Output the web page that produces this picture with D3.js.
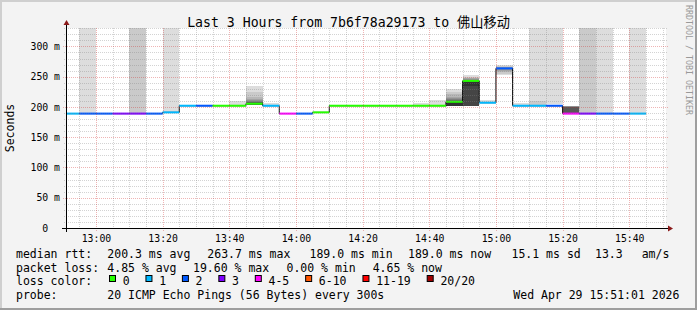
<!DOCTYPE html>
<html>
<head>
<meta charset="utf-8">
<script src="https://cdn.jsdelivr.net/npm/d3@7"></script>
<style>
  body { margin: 0; background: #f3f3f3; }
  svg { display: block; }
  text { font-family: "DejaVu Sans Mono", "Noto Sans CJK SC", monospace; fill: #000; }
</style>
</head>
<body>
<div id="container"></div>
<script>
/* CONSTANTS AND GLOBALS */
const width = 697,
  height = 310,
  plot = { left: 66, right: 666, top: 28, bottom: 228 }

/* DATA */
const title = "Last 3 Hours from 7b6f78a29173 to 佛山移动"
const day = "2026-04-29"
const windowStart = "12:51:01", windowEnd = "15:51:01"
const stepMinutes = 5
const yMax = 330.4

// one entry per 5 minute step
const stepTimes = ["12:50", "12:55", "13:00", "13:05", "13:10", "13:15", "13:20", "13:25", "13:30",
  "13:35", "13:40", "13:45", "13:50", "13:55", "14:00", "14:05", "14:10", "14:15", "14:20", "14:25",
  "14:30", "14:35", "14:40", "14:45", "14:50", "14:55", "15:00", "15:05", "15:10", "15:15", "15:20",
  "15:25", "15:30", "15:35", "15:40"]
const medians = [189, 189, 189, 189, 189, 189, 191, 202, 202, 202, 202, 205.3, 202, 189, 189, 191,
  202, 202, 202, 202, 202, 202, 202, 208.5, 243, 207, 263.7, 202, 202, 202, 189, 189, 189, 189, 189]
const lossCounts = [1, 2, 2, 3, 3, 2, 1, 1, 2, 0, 0, 0, 1, 4, 2, 0, 0, 0, 0, 0, 0, 0, 0, 0, 0, 1, 2,
  1, 1, 2, 4, 3, 2, 2, 1]

// smoke: ping pairs (low, high) from the outer pair inwards, only for steps that have some
const smokeTimes = ["12:55", "13:10", "13:20", "13:40", "13:45", "13:50", "14:35", "14:40", "14:45",
  "14:50", "14:55", "15:00", "15:05", "15:10", "15:15", "15:20", "15:25", "15:30", "15:40"]
const smokePairs = [
  [[190.5, 2000]],
  [[190.5, 2000], [190.5, 2000]],
  [[192, 2000]],
  [[203, 209]],
  [[203, 234.5], [203, 224], [203, 217], [203, 213], [203, 211], [203, 209.5], [203, 208.5], [203, 207.5]],
  [[203, 207]],
  [[202, 206]],
  [[202, 211]],
  [[202, 229], [202, 225], [202, 221], [202, 217], [202, 215], [202, 213], [202, 211], [202, 210], [202, 209], [202, 208]],
  [[202, 252], [202, 250], [202, 248], [202, 247], [202, 246], [202, 245], [202, 244], [202, 243], [202, 242], [234, 241]],
  [[206, 211.5]],
  [[252, 269], [254, 267], [257, 266], [259, 265], [261, 265]],
  [[202, 206]],
  [[204, 2000], [204, 209]],
  [[204.3, 2000]],
  [[190.5, 202], [190.5, 201.6], [190.5, 201.3], [190.5, 201], [190.5, 200.8], [190.5, 200.6], [190.5, 200.4], [190.5, 200.2]],
  [[190.5, 2000], [190.5, 2000]],
  [[190.5, 2000]],
  [[190.5, 2000]]
]

const yTicks = [0, 50, 100, 150, 200, 250, 300]
const lossLabels = ["0", "1", "2", "3", "4-5", "6-10", "11-19", "20/20"]
const lossLimits = [1, 2, 3, 4, 6, 11, 20]
const lossColors = ["#26ff00", "#00b8ff", "#0059ff", "#7e00ff", "#ff00ff", "#ff5500", "#ff0000", "#a00000"]

const rttStats = ["median rtt:", "200.3 ms avg", "263.7 ms max", "189.0 ms min", "189.0 ms now", "15.1 ms sd", "13.3", "am/s"]
const lossStats = ["packet loss:", "4.85 % avg", "19.60 % max", "0.00 % min", "4.65 % now"]
const probeText = ["probe:", "20 ICMP Echo Pings (56 Bytes) every 300s", "Wed Apr 29 15:51:01 2026"]

/* LAYOUT */
const rttX = [16, 107.3, 207.3, 309.5, 408, 511.5, 595, 641.7]
const lossX = [16, 107.3, 193, 286.5, 372.7]
const probeX = [16, 107.3, 513.3]
const charW = 6.95

/* SCALES */
const parseTime = d3.timeParse("%Y-%m-%d %H:%M:%S")
const at = t => parseTime(`${day} ${t.length === 5 ? t + ":00" : t}`)

const xScale = d3.scaleTime()
  .domain([at(windowStart), at(windowEnd)])
  .range([plot.left, plot.right])

const yScale = d3.scaleLinear()
  .domain([0, yMax])
  .range([plot.bottom, plot.top])

const lossColor = d3.scaleThreshold().domain(lossLimits).range(lossColors)

const steps = stepTimes.map((t, i) => {
  const t0 = at(t)
  return { t0, t1: d3.timeMinute.offset(t0, stepMinutes), median: medians[i], loss: lossCounts[i] }
})

/* CREATE SVG ELEMENT */
const svg = d3.select("#container")
  .append("svg")
  .attr("width", width)
  .attr("height", height)

// frame
svg.append("rect").attr("width", width).attr("height", height).attr("fill", "#f3f3f3")
svg.append("path").attr("d", `M0,${height} V0 H${width}`).attr("stroke", "#cfcfcf").attr("stroke-width", 4).attr("fill", "none")
svg.append("path").attr("d", `M0,${height} H${width} V0`).attr("stroke", "#9e9e9e").attr("stroke-width", 4).attr("fill", "none")

svg.append("rect")
  .attr("x", plot.left).attr("y", plot.top)
  .attr("width", plot.right - plot.left).attr("height", plot.bottom - plot.top)
  .attr("fill", "#fff")

svg.append("clipPath").attr("id", "clip")
  .append("rect")
  .attr("x", plot.left).attr("y", plot.top)
  .attr("width", plot.right - plot.left).attr("height", plot.bottom - plot.top)

const g = svg.append("g").attr("clip-path", "url(#clip)")

// SMOKE
const smokeGray = k => { const v = 221 - 19 * k; return d3.rgb(v, v, v) }
smokeTimes.forEach((t, i) => {
  const t0 = at(t), t1 = d3.timeMinute.offset(t0, stepMinutes)
  g.append("g").selectAll("rect")
    .data(smokePairs[i])
    .join("rect")
    .attr("x", xScale(t0))
    .attr("width", xScale(t1) - xScale(t0))
    .attr("y", d => yScale(d[1]))
    .attr("height", d => yScale(d[0]) - yScale(d[1]))
    .attr("fill", (d, k) => smokeGray(k))
    .attr("shape-rendering", "crispEdges")
})

// GRID
const crisp = v => Math.round(v) + 0.5
const minorX = d3.timeMinute.every(5).range(xScale.domain()[0], xScale.domain()[1])
const grid = svg.append("g").attr("stroke-dasharray", "1,1").attr("stroke-width", 1)

grid.selectAll(".vminor")
  .data(minorX.filter(d => d.getMinutes() % 20 !== 0))
  .join("line")
  .attr("x1", d => crisp(xScale(d))).attr("x2", d => crisp(xScale(d)))
  .attr("y1", plot.top).attr("y2", plot.bottom + 2)
  .attr("stroke", "rgba(130,130,130,0.35)")

grid.selectAll(".hminor")
  .data(d3.range(10, yMax, 10).filter(d => d % 50 !== 0))
  .join("line")
  .attr("x1", plot.left - 2).attr("x2", plot.right + 2)
  .attr("y1", d => crisp(yScale(d))).attr("y2", d => crisp(yScale(d)))
  .attr("stroke", "rgba(130,130,130,0.35)")

grid.selectAll(".vmajor")
  .data(minorX.filter(d => d.getMinutes() % 20 === 0))
  .join("line")
  .attr("x1", d => crisp(xScale(d))).attr("x2", d => crisp(xScale(d)))
  .attr("y1", plot.top).attr("y2", plot.bottom + 3)
  .attr("stroke", "rgba(210,40,40,0.35)")

grid.selectAll(".hmajor")
  .data(yTicks.filter(d => d > 0))
  .join("line")
  .attr("x1", plot.left - 3).attr("x2", plot.right + 2)
  .attr("y1", d => crisp(yScale(d))).attr("y2", d => crisp(yScale(d)))
  .attr("stroke", "rgba(210,40,40,0.35)")

// MEDIAN LINE
const last = steps[steps.length - 1]
const line = d3.line()
  .x(d => xScale(d[0]))
  .y(d => yScale(d[1]))
  .curve(d3.curveStepAfter)

g.append("path")
  .datum(steps.map(s => [s.t0, s.median]).concat([[last.t1, last.median]]))
  .attr("d", line)
  .attr("fill", "none")
  .attr("stroke", "#000")
  .attr("stroke-width", 1)

g.selectAll(".median")
  .data(steps)
  .join("line")
  .attr("x1", d => xScale(d.t0)).attr("x2", d => xScale(d.t1))
  .attr("y1", d => yScale(d.median)).attr("y2", d => yScale(d.median))
  .attr("stroke", d => lossColor(d.loss))
  .attr("stroke-width", 2)

// AXES
svg.append("line")
  .attr("x1", plot.left - 4).attr("x2", plot.right + 2)
  .attr("y1", plot.bottom + 0.5).attr("y2", plot.bottom + 0.5)
  .attr("stroke", "#000")
svg.append("line")
  .attr("x1", plot.left + 0.5).attr("x2", plot.left + 0.5)
  .attr("y1", plot.bottom + 4).attr("y2", plot.top - 3)
  .attr("stroke", "#000")
svg.append("path")
  .attr("d", `M${plot.right + 2},${plot.bottom - 2.5} L${plot.right + 7},${plot.bottom + 0.5} L${plot.right + 2},${plot.bottom + 3.5} Z`)
  .attr("fill", "#8b1a1a")
svg.append("path")
  .attr("d", `M${plot.left - 2.5},${plot.top - 3} L${plot.left + 0.5},${plot.top - 8} L${plot.left + 3.5},${plot.top - 3} Z`)
  .attr("fill", "#8b1a1a")

const xAxis = d3.axisBottom(xScale)
  .ticks(d3.timeMinute.every(20))
  .tickFormat(d3.timeFormat("%H:%M"))
  .tickSize(0)
  .tickPadding(7)

svg.append("g")
  .attr("transform", `translate(0,${plot.bottom})`)
  .call(xAxis)
  .call(a => a.select(".domain").remove())
  .selectAll("text")
  .attr("font-family", null)
  .style("font-size", "9.8px")

const yAxis = d3.axisLeft(yScale)
  .tickValues(yTicks)
  .tickFormat(d => d === 0 ? "0\u00a0\u00a0" : `${d} m`)
  .tickSize(0)
  .tickPadding(6)

svg.append("g")
  .attr("transform", `translate(${plot.left},0)`)
  .call(yAxis)
  .call(a => a.select(".domain").remove())
  .selectAll("text")
  .attr("font-family", null)
  .style("font-size", "9.8px")

/* TEXT */
svg.append("text")
  .attr("x", width / 2).attr("y", 26.5)
  .attr("text-anchor", "middle")
  .style("font-size", "13.2px")
  .text(title)

svg.append("text")
  .attr("transform", `translate(14,${(plot.top + plot.bottom) / 2}) rotate(-90)`)
  .attr("text-anchor", "middle")
  .style("font-size", "11.5px")
  .text("Seconds")

svg.append("text")
  .attr("transform", `translate(686,60) rotate(90)`)
  .attr("text-anchor", "middle")
  .style("font-size", "8.3px")
  .style("fill", "#999")
  .text("RRDTOOL / TOBI OETIKER")

// LEGEND
const legend = svg.append("g").style("font-size", "11.5px").attr("xml:space", "preserve")
const row = (tokens, xs, yBase) => legend.append("g")
  .selectAll("text")
  .data(tokens)
  .join("text")
  .attr("x", (d, i) => xs[i])
  .attr("y", yBase)
  .text(d => d)

row(rttStats, rttX, 258)
row(lossStats, lossX, 271.5)
row(["loss color:"], [16], 285)
row(probeText, probeX, 298.7)

let bx = 109
const boxes = lossLabels.map(l => { const p = bx; bx += 29.5 + charW * l.length; return p })
legend.selectAll(".box")
  .data(lossLabels)
  .join("rect")
  .attr("x", (d, i) => boxes[i] + 0.5).attr("y", 275.5)
  .attr("width", 6).attr("height", 6)
  .attr("fill", (d, i) => lossColors[i])
  .attr("stroke", "#000")
legend.selectAll(".boxlabel")
  .data(lossLabels)
  .join("text")
  .attr("x", (d, i) => boxes[i] + 13.7)
  .attr("y", 285)
  .text(d => d)
</script>
</body>
</html>
